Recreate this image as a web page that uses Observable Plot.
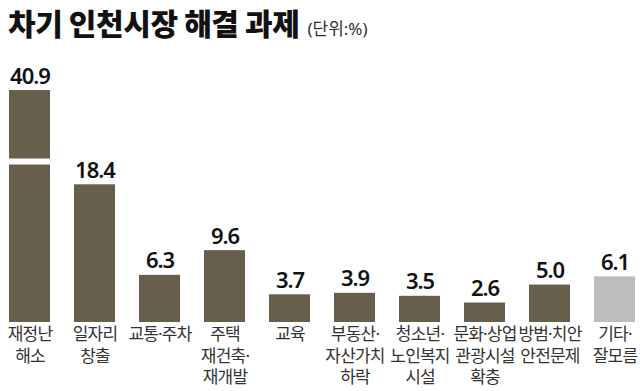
<!DOCTYPE html>
<html><head><meta charset="utf-8">
<script src="https://cdn.jsdelivr.net/npm/d3@7"></script>
<script src="https://cdn.jsdelivr.net/npm/@observablehq/plot@0.6"></script>
<style>
body{margin:0;background:#fff;font-family:"Noto Sans","Noto Sans CJK KR",sans-serif;}
#title{padding-left:8px;white-space:nowrap;line-height:normal;}
#title .main{font-family:"Noto Sans CJK KR",sans-serif;font-size:30px;font-weight:900;color:#111;letter-spacing:-0.4px;}
#title .unit{font-size:17px;color:#333;margin-left:8px;}
</style></head><body>
<div id="title"><span class="main">차기 인천시장 해결 과제</span><span class="unit">(단위:%)</span></div>
<div id="chart"></div>
<script>
const categories = ["재정난 해소","일자리 창출","교통·주차","주택 재건축·재개발","교육","부동산·자산가치 하락","청소년·노인복지 시설","문화·상업 관광시설 확충","방범·치안 안전문제","기타·잘모름"];
const tickLabels = ["재정난\n해소","일자리\n창출","교통·주차","주택\n재건축·\n재개발","교육","부동산·\n자산가치\n하락","청소년·\n노인복지\n시설","문화·상업\n관광시설\n확충","방범·치안\n안전문제","기타·\n잘모름"];
const values = [40.9, 18.4, 6.3, 9.6, 3.7, 3.9, 3.5, 2.6, 5.0, 6.1];
const groups = ["main","main","main","main","main","main","main","main","main","other"];
const axisTop = 31;      // broken axis: bars above this are cut
const breakAt = 21.5;    // where the cut is drawn on the tallest bar

const data = categories.map((c, i) => ({cat: c, label: tickLabels[i], value: values[i], group: groups[i]}));
const broken = data.filter(d => d.value > axisTop);

const titleH = document.getElementById("title").getBoundingClientRect().height;
const svgH = 391 - Math.round(titleH);

const chart = Plot.plot({
  width: 640,
  height: svgH,
  marginLeft: 8,
  marginRight: 4,
  marginTop: 90 - (391 - svgH),
  marginBottom: 69,
  x: {domain: categories, paddingInner: 0.37, paddingOuter: 0, axis: null},
  y: {domain: [0, axisTop], clamp: true, axis: null},
  color: {domain: ["main","other"], range: ["#675f4c","#bdbdbd"]},
  style: {fontFamily: "'Noto Sans', 'Noto Sans CJK KR', sans-serif", background: "#fff", overflow: "visible"},
  marks: [
    Plot.barY(data, {x: "cat", y: "value", fill: "group"}),
    Plot.tickY(broken, {x: "cat", y: () => breakAt, stroke: "#fff", strokeWidth: 6}),
    Plot.text(data, {x: "cat", y: "value", text: d => d.value.toFixed(1), dy: -7, lineAnchor: "bottom",
      fontSize: 22, fontWeight: 600, fill: "#111"}),
    Plot.text(data, {x: "cat", y: () => 0, text: "label", dy: 2, lineAnchor: "top",
      fontSize: 17, lineHeight: 1.28, fill: "#333"})
  ]
});
const textGroups = chart.querySelectorAll('g[aria-label="text"]');
if (textGroups[0]) textGroups[0].style.letterSpacing = "-1px";
if (textGroups[1]) textGroups[1].style.letterSpacing = "-0.8px";
document.getElementById("chart").appendChild(chart);
</script>
</body></html>
